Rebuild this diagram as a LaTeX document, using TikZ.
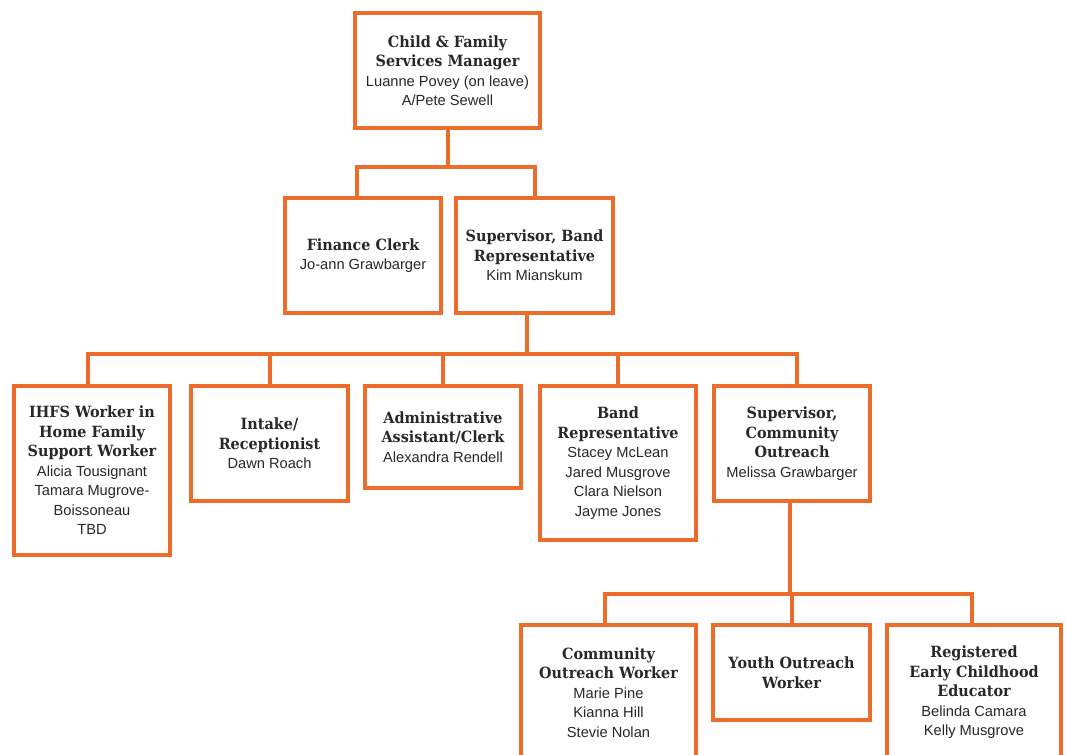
\documentclass[tikz,border=0pt]{standalone}
\usepackage{fontspec}
\usetikzlibrary{calc}
\setmainfont{Liberation Sans}
\newfontfamily\headfont[FakeStretch=0.93]{DejaVu Serif}
\definecolor{chartorange}{RGB}{236,108,44}
\definecolor{inkgray}{RGB}{40,40,40}
\newcommand{\rolef}{\headfont\bfseries}
\newcommand{\namef}{\normalfont\fontsize{11}{13.4}\selectfont}
\tikzset{
  orgbox/.style={draw=chartorange, line width=3pt, fill=white, align=center,
    inner sep=0pt, text=inkgray, font=\fontsize{11.6}{14.6}\selectfont},
  link/.style={draw=chartorange, line width=3pt, line join=miter}
}
\begin{document}
\begin{tikzpicture}[x=0.75pt, y=-0.75pt]
\path[use as bounding box] (0,0) rectangle (1066,755);
\clip (0,0) rectangle (1066,755);
\fill[white] (0,0) rectangle (1066,755);

% boxes (centre, width, height in pixels)
\node[orgbox, minimum width=138.75pt, minimum height=86.25pt] (mgr) at (447.5,70.5) {\rolef Child \& Family\\\rolef Services Manager\\\namef Luanne Povey (on leave)\\\namef A/Pete Sewell};
\node[orgbox, minimum width=117pt, minimum height=86.25pt] (fin) at (363,255.5) {\rolef Finance Clerk\\\namef Jo-ann Grawbarger};
\node[orgbox, minimum width=117.75pt, minimum height=86.25pt] (supband) at (534.5,255.5) {\rolef Supervisor, Band\\\rolef Representative\\\namef Kim Mianskum};

\node[orgbox, minimum width=117pt, minimum height=126.75pt] (ihfs) at (92,470.5) {\rolef IHFS Worker in\\\rolef Home Family\\\rolef Support Worker\\\namef Alicia Tousignant\\\namef Tamara Mugrove-\\\namef Boissoneau\\\namef TBD};
\node[orgbox, minimum width=117.75pt, minimum height=86.25pt] (intake) at (269.5,443.5) {\rolef Intake/\\\rolef Receptionist\\\namef Dawn Roach};
\node[orgbox, minimum width=117pt, minimum height=76.5pt] (admin) at (443,437) {\rolef Administrative\\\rolef Assistant/Clerk\\\namef Alexandra Rendell};
\node[orgbox, minimum width=117pt, minimum height=115.5pt] (bandrep) at (618,463) {\rolef Band\\\rolef Representative\\\namef Stacey McLean\\\namef Jared Musgrove\\\namef Clara Nielson\\\namef Jayme Jones};
\node[orgbox, minimum width=117pt, minimum height=86.25pt] (supcom) at (792,443.5) {\rolef Supervisor,\\\rolef Community\\\rolef Outreach\\\namef Melissa Grawbarger};

\node[orgbox, minimum width=131.25pt, minimum height=101.25pt] (cow) at (608.5,692.5) {\rolef Community\\\rolef Outreach Worker\\\namef Marie Pine\\\namef Kianna Hill\\\namef Stevie Nolan};
\node[orgbox, minimum width=117.75pt, minimum height=71.25pt] (youth) at (791.5,672.5) {\rolef Youth Outreach\\\rolef Worker};
\node[orgbox, minimum width=130.5pt, minimum height=101.25pt] (ece) at (974,692.5) {\rolef Registered\\\rolef Early Childhood\\\rolef Educator\\\namef Belinda Camara\\\namef Kelly Musgrove};

% first level
\draw[link] (mgr.south) -- ++(0,37) coordinate (bus1);
\draw[link] ($(fin.north)+(-6,0)$) |- (bus1) -| (supband.north);

% second level
\draw[link] ($(supband.south)+(-7.5,0)$) -- ++(0,39) coordinate (bus2);
\draw[link] ($(ihfs.north)+(-4,0)$) |- (bus2) -| ($(supcom.north)+(5,0)$);
\foreach \n in {intake,admin,bandrep}
  \draw[link] (\n.north) -- (\n.north |- bus2);

% third level
\draw[link] ($(supcom.south)+(-2,0)$) -- ++(0,91) coordinate (bus3);
\draw[link] ($(cow.north)+(-3.5,0)$) |- (bus3) -| ($(ece.north)+(-2,0)$);
\draw[link] (youth.north) -- (youth.north |- bus3);
\end{tikzpicture}
\end{document}
